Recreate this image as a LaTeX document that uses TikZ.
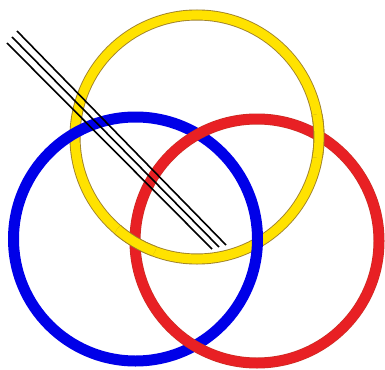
\documentclass[tikz,border=0pt]{standalone}
\definecolor{ringyellow}{RGB}{255,226,0}
\definecolor{yellowedge}{RGB}{160,130,40}
\definecolor{ringblue}{RGB}{0,0,232}
\definecolor{ringred}{RGB}{232,32,36}
\definecolor{rededge}{RGB}{200,45,35}
\tikzset{
  yring/.style={draw=yellowedge, line width=11pt},
  yringin/.style={draw=ringyellow, line width=9.2pt},
  bring/.style={draw=ringblue, line width=11pt},
  rring/.style={draw=rededge, line width=11pt},
  rringin/.style={draw=ringred, line width=9.8pt},
  wire/.style={draw=black, line width=1.6pt}
}
\begin{document}
\begin{tikzpicture}[x=1pt,y=-1pt]
\fill[white] (0,0) rectangle (385,369);
\useasboundingbox (0,0) rectangle (385,369);
\coordinate (yc) at (197,137);
\coordinate (bc) at (135.5,239);
\coordinate (rc) at (257,241);
% yellow
\draw[yring] (yc) circle[radius=122pt];
\draw[yringin] (yc) circle[radius=122pt];
% blue over yellow
\draw[bring] (bc) circle[radius=122pt];
% red over blue
\draw[rring] (rc) circle[radius=122pt];
\draw[rringin] (rc) circle[radius=122pt];
% yellow over red at its two crossings
\coordinate (x1) at (319,136);
\coordinate (x2) at (135,242);
\begin{scope}
  \clip (x1) circle[radius=22pt];
  \draw[yring] (yc) circle[radius=122pt];
  \draw[yringin] (yc) circle[radius=122pt];
\end{scope}
\begin{scope}
  \clip (x2) circle[radius=22pt];
  \draw[yring] (yc) circle[radius=122pt];
  \draw[yringin] (yc) circle[radius=122pt];
\end{scope}
% three parallel wires
\coordinate (a1) at (17,31);
\coordinate (a2) at (12,37);
\coordinate (a3) at (7,43);
\coordinate (b1) at (226,245);
\coordinate (b2) at (219,247);
\coordinate (b3) at (212,249);
\draw[wire] (a1) -- (b1);
\draw[wire] (a2) -- (b2);
\draw[wire] (a3) -- (b3);
\end{tikzpicture}
\end{document}
